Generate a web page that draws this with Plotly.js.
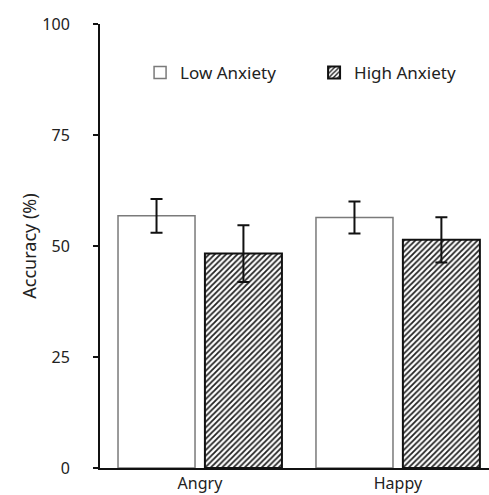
<!DOCTYPE html>
<html>
<head>
<meta charset="utf-8">
<script src="https://cdn.plot.ly/plotly-3.0.1.min.js"></script>
<style>html,body{margin:0;padding:0;background:#fff;}#chart{width:489px;height:495px;}</style>
</head>
<body>
<div id="chart"></div>
<script>
var categories = ["Angry", "Happy"];
var lowAnxiety = [56.8, 56.4];
var lowAnxietyErr = [3.8, 3.6];
var highAnxiety = [48.3, 51.4];
var highAnxietyErr = [6.4, 5.1];
var yTicks = [0, 25, 50, 75, 100];

var FONT = "Noto Sans, Open Sans, sans-serif";

var traces = [
  {
    type: "bar", name: "Low Anxiety", x: categories, y: lowAnxiety,
    width: 0.389, offset: -0.414,
    marker: {color: "#ffffff", line: {color: "#7a7a7a", width: 1.5}},
    error_y: {type: "data", array: lowAnxietyErr, visible: true, color: "#111", thickness: 2, width: 6}
  },
  {
    type: "bar", name: "High Anxiety", x: categories, y: highAnxiety,
    width: 0.389, offset: 0.025,
    marker: {color: "#ffffff", line: {color: "#111", width: 2},
      pattern: {shape: "/", fgcolor: "#222", bgcolor: "#ffffff", size: 4, solidity: 0.45}},
    error_y: {type: "data", array: highAnxietyErr, visible: true, color: "#111", thickness: 2, width: 6}
  }
];

var layout = {
  width: 489, height: 495,
  margin: {l: 100, r: 0, t: 24, b: 27, pad: 0},
  paper_bgcolor: "#fff", plot_bgcolor: "#fff",
  font: {family: FONT, color: "#222", size: 16},
  showlegend: true,
  legend: {orientation: "h", x: 0.103, xanchor: "left", y: 0.89, yanchor: "middle",
    font: {family: FONT, size: 17, color: "#222"}, entrywidth: 129, entrywidthmode: "pixels",
    bgcolor: "rgba(0,0,0,0)"},
  xaxis: {type: "category", range: [-0.505, 1.46], showline: true, linecolor: "#111", linewidth: 2,
    ticks: "", showgrid: false, zeroline: false, tickfont: {family: FONT, size: 16, color: "#222"}, fixedrange: true},
  yaxis: {range: [0, 100], tickvals: yTicks, ticktext: yTicks.map(String), showline: true, linecolor: "#111", linewidth: 2,
    ticks: "outside", ticklen: 5, tickwidth: 2, tickcolor: "#111", showgrid: false, zeroline: false,
    ticklabelstandoff: 20, tickfont: {family: FONT, size: 16, color: "#222"},
    title: {text: "Accuracy (%)", font: {family: FONT, size: 18, color: "#222"}, standoff: 1}, fixedrange: true},
  bargap: 0, bargroupgap: 0
};

Plotly.newPlot("chart", traces, layout, {displayModeBar: false, staticPlot: true});
</script>
</body>
</html>
